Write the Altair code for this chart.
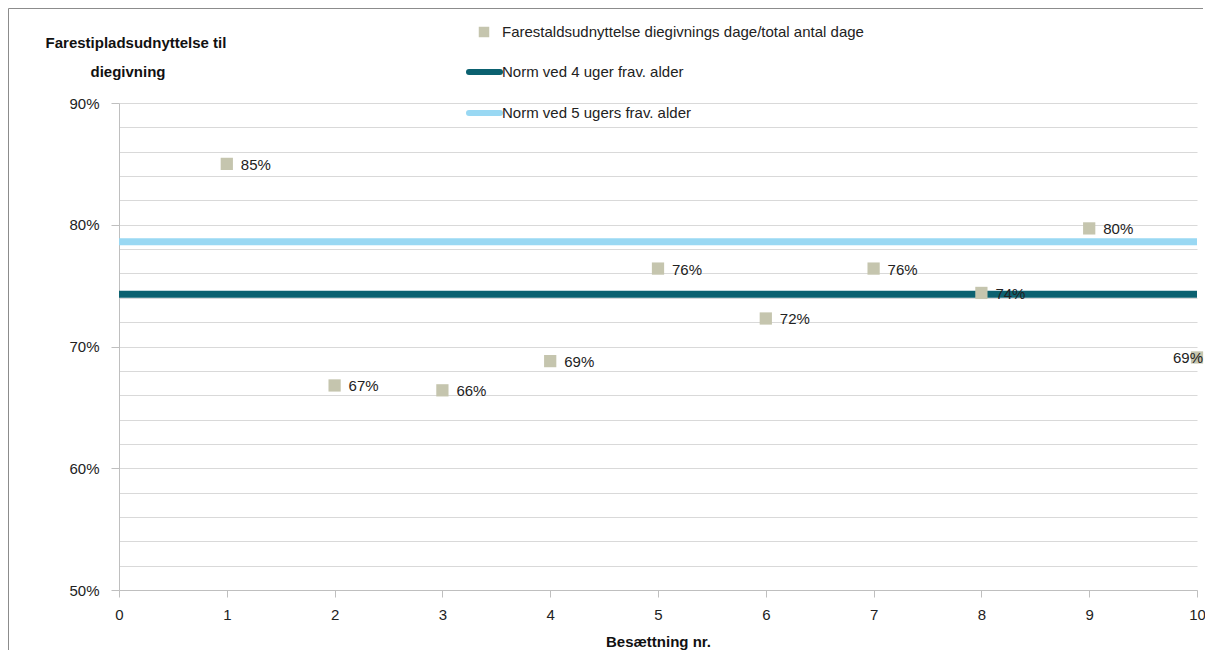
import altair as alt
import pandas as pd

# ---- data ----
besaetning = [1, 2, 3, 4, 5, 6, 7, 8, 9, 10]
udnyttelse = [0.850, 0.668, 0.664, 0.688, 0.764, 0.723, 0.764, 0.744, 0.797, 0.691]

norm_names = ["Norm ved 4 uger frav. alder", "Norm ved 5 ugers frav. alder"]
norm_values = [0.743, 0.786]
norm_colors = ["#0b6170", "#99d8f3"]

point_name = "Farestaldsudnyttelse diegivnings dage/total antal dage"
point_color = "#c5c5ae"

y_title_lines = ["Farestipladsudnyttelse til", "diegivning"]
x_title = "Besættning nr."

FONT = "Liberation Sans"
W, H = 1078, 487

pts = pd.DataFrame({"nr": besaetning, "val": udnyttelse})
norms = pd.DataFrame({"name": norm_names, "val": norm_values, "color": norm_colors})

x_scale = alt.Scale(domain=[0, 10], nice=False, zero=False)
y_scale = alt.Scale(domain=[0.5, 0.9], nice=False, zero=False)

grid_vals = [round(0.5 + 0.02 * i, 2) for i in range(21)]

x_axis = alt.Axis(values=list(range(11)), format="d", grid=False, tickSize=7, tickColor="#bfbfbf",
                  domainColor="#bfbfbf", labelFontSize=15, labelFont=FONT, labelColor="#222",
                  labelFlush=False, labelPadding=10, titleFont=FONT, titleFontSize=15,
                  titleFontWeight="bold", titleColor="#111", titlePadding=12)
y_axis = alt.Axis(values=grid_vals, format=".0%", labelOverlap=False, labelFlush=False,
                  labelExpr="round(datum.value*100) % 10 == 0 ? datum.label : ''",
                  tickOpacity={"condition": {"test": "round(datum.value*100) % 10 == 0", "value": 1}, "value": 0},
                  grid=True, gridColor="#d9d9d9", tickSize=8, tickColor="#bfbfbf",
                  domainColor="#bfbfbf", labelFontSize=15, labelFont=FONT, labelColor="#222",
                  labelPadding=12)

x_enc = alt.X("nr:Q", scale=x_scale, title=x_title, axis=x_axis)
y_enc = alt.Y("val:Q", scale=y_scale, title=None, axis=y_axis)

# outer chart frame (only top and left edges are visible in the reference)
frame_df = pd.DataFrame({"a": [0]})
frame_top = alt.Chart(frame_df).mark_rule(stroke="#8c8c8c", strokeWidth=1).encode(
    x=alt.value(-110.5), x2=alt.value(1084), y=alt.value(-94.5))
frame_left = alt.Chart(frame_df).mark_rule(stroke="#8c8c8c", strokeWidth=1).encode(
    x=alt.value(-110.5), y=alt.value(-94.5), y2=alt.value(600))

rules = alt.Chart(norms).mark_rule(strokeWidth=7).encode(
    y=y_enc,
    x=alt.value(0), x2=alt.value(W),
    color=alt.Color("color:N", scale=None, legend=None),
)

points = alt.Chart(pts).mark_square(size=150, color=point_color, opacity=1).encode(x=x_enc, y=y_enc)

labels_main = alt.Chart(pts).transform_filter("datum.nr < 10").mark_text(
    align="left", baseline="middle", dx=14, dy=1, fontSize=15, font=FONT, color="#222"
).encode(x=x_enc, y=y_enc, text=alt.Text("val:Q", format=".0%"))

labels_last = alt.Chart(pts).transform_filter("datum.nr == 10").mark_text(
    align="left", baseline="middle", dx=-24, dy=1, fontSize=15, font=FONT, color="#222"
).encode(x=x_enc, y=y_enc, text=alt.Text("val:Q", format=".0%"))

# ---- y title (two lines, top-left) ----
ytitle_layers = []
for i, line in enumerate(y_title_lines):
    ytitle_layers.append(alt.Chart(pd.DataFrame({"t": [line]})).mark_text(
        align="center", baseline="middle", fontSize=15, font=FONT, fontWeight="bold", color="#111"
    ).encode(x=alt.value(17 if i == 0 else 9), y=alt.value(-60 + 29 * i), text="t:N"))

# ---- manual legend ----
leg_pt = alt.Chart(pd.DataFrame({"name": [point_name]})).mark_square(size=110, color=point_color, opacity=1).encode(
    x=alt.value(365), y=alt.value(-71))
leg_pt_txt = alt.Chart(pd.DataFrame({"name": [point_name]})).mark_text(
    align="left", baseline="middle", fontSize=15, font=FONT, color="#222").encode(
    x=alt.value(383), y=alt.value(-71), text="name:N")

leg_lines = []
for i, (nm, col) in enumerate(zip(norm_names, norm_colors)):
    yy = -31 + 41 * i
    d = pd.DataFrame({"name": [nm]})
    leg_lines.append(alt.Chart(d).mark_rule(strokeWidth=6, color=col, strokeCap="round").encode(
        x=alt.value(350), x2=alt.value(381), y=alt.value(yy)))
    leg_lines.append(alt.Chart(d).mark_text(
        align="left", baseline="middle", fontSize=15, font=FONT, color="#222").encode(
        x=alt.value(383), y=alt.value(yy), text="name:N"))

chart = alt.layer(
    frame_top, frame_left, rules, points, labels_main, labels_last, *ytitle_layers,
    leg_pt, leg_pt_txt, *leg_lines
).properties(
    width=W, height=H,
    autosize=alt.AutoSizeParams(type="none"),
    padding={"left": 111, "top": 95, "right": 8, "bottom": 60},
).configure_view(stroke=None)

chart.save("out.html", embed_options={"renderer": "svg", "actions": False})
